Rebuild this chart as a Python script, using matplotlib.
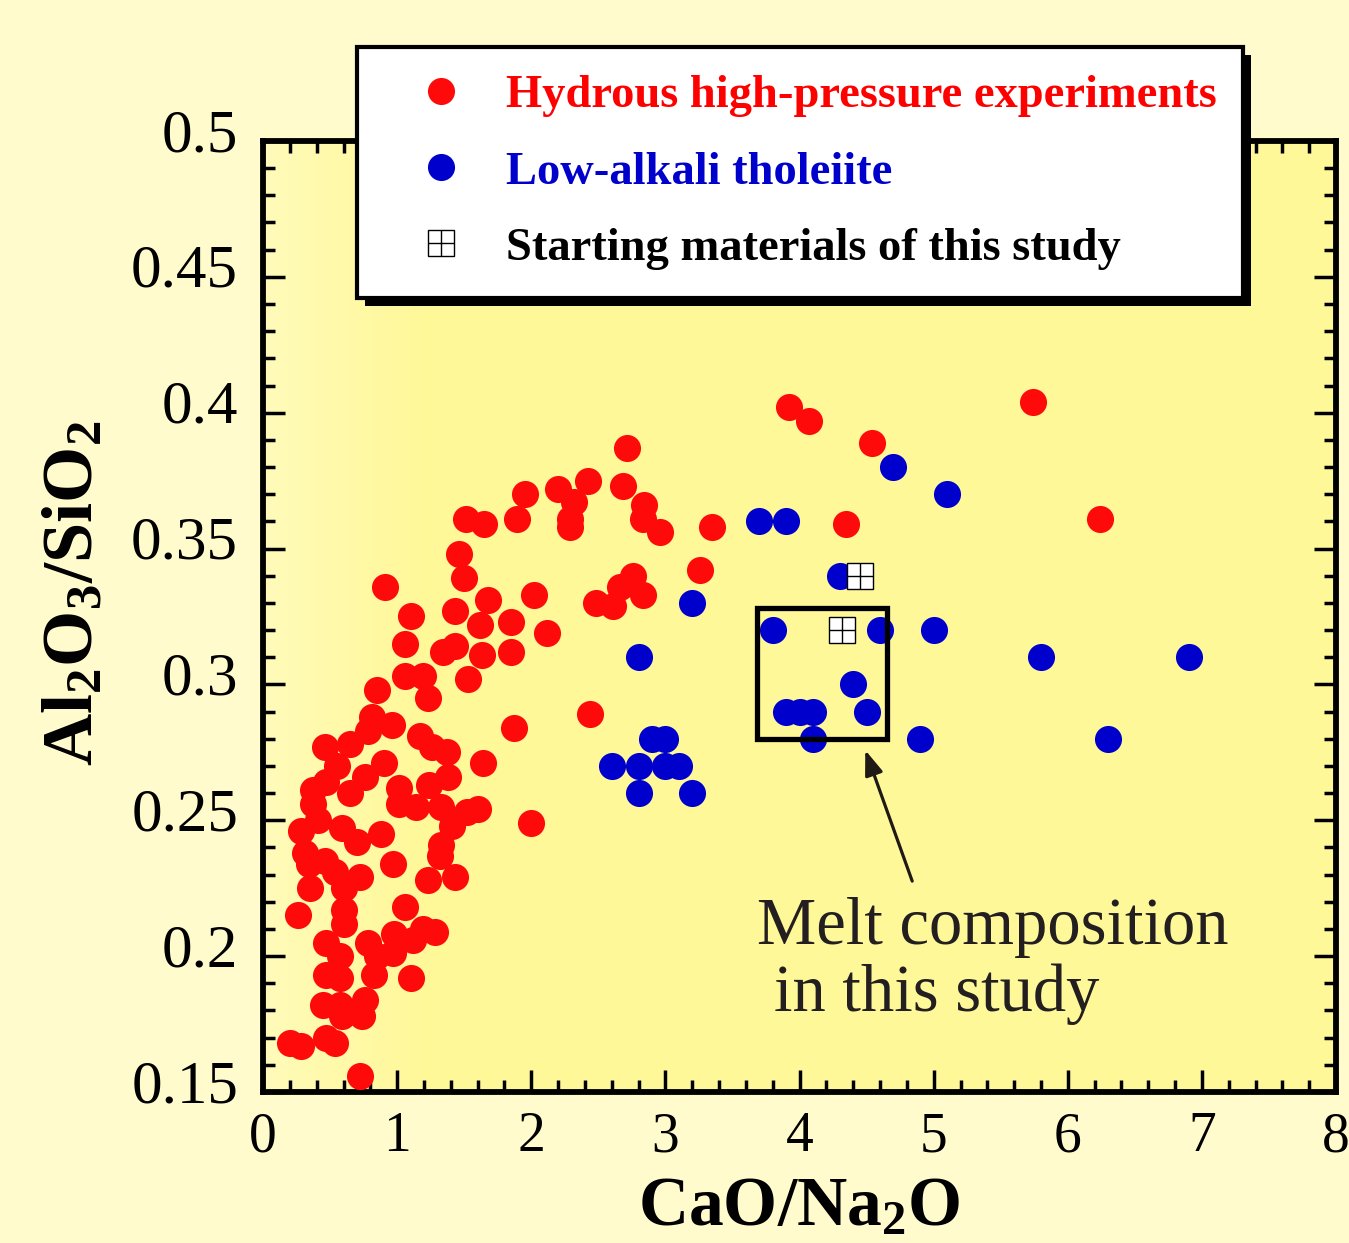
import numpy as np
import matplotlib
matplotlib.use('Agg')
import matplotlib.pyplot as plt
import matplotlib.patheffects as pe
from matplotlib.patches import Rectangle
from matplotlib.ticker import MultipleLocator, FuncFormatter
from matplotlib.transforms import ScaledTranslation

# hydrous high-pressure experiments (CaO/Na2O, Al2O3/SiO2)
red_x = [5.74, 3.92, 4.07, 4.54, 4.35, 6.24, 3.35, 3.26,
         2.71, 1.95, 2.20, 2.42, 2.32, 2.29, 2.29, 2.68, 2.84, 2.83, 2.96, 1.65,
         1.89, 1.68, 2.02, 1.85, 2.12, 1.62, 1.85, 1.63, 2.48, 2.61, 2.66, 2.76,
         2.83, 2.44, 1.87, 1.64, 2.00,
         1.51, 1.46, 1.50, 0.91, 1.10, 1.43, 1.06, 1.34, 1.43, 1.06, 1.19, 1.53,
         0.85, 1.23, 0.81, 0.96, 0.78, 0.46, 0.65, 1.17, 1.26, 1.37, 0.90, 0.55,
         0.76, 0.375, 0.47, 0.65, 1.01, 1.24, 1.38, 0.375, 1.01, 1.14, 1.33, 1.52,
         1.60, 0.41, 0.28, 0.59, 0.70, 0.88, 1.41, 1.33, 0.31, 1.32, 0.34, 0.46,
         0.54, 0.72, 0.97, 1.23, 1.43, 0.35, 0.60, 0.26, 0.60, 1.06, 0.60, 0.47,
         0.78, 0.98, 1.19, 1.28, 1.12, 0.57, 0.85, 0.97, 0.47, 0.57, 0.83, 1.10,
         0.45, 0.57, 0.76, 0.59, 0.74, 0.20, 0.28, 0.47, 0.54, 0.72]
red_y = [0.404, 0.402, 0.397, 0.389, 0.359, 0.361, 0.358, 0.342,
         0.387, 0.370, 0.372, 0.375, 0.367, 0.361, 0.358, 0.373, 0.366, 0.361, 0.356, 0.359,
         0.361, 0.331, 0.333, 0.323, 0.319, 0.322, 0.312, 0.311, 0.330, 0.329, 0.336, 0.340,
         0.333, 0.289, 0.284, 0.271, 0.249,
         0.361, 0.348, 0.339, 0.336, 0.325, 0.327, 0.315, 0.312, 0.314, 0.303, 0.303, 0.302,
         0.298, 0.295, 0.288, 0.285, 0.283, 0.277, 0.278, 0.281, 0.277, 0.275, 0.271, 0.270,
         0.266, 0.261, 0.264, 0.260, 0.262, 0.263, 0.266, 0.256, 0.256, 0.255, 0.255, 0.253,
         0.254, 0.250, 0.246, 0.247, 0.242, 0.245, 0.248, 0.241, 0.238, 0.237, 0.234, 0.235,
         0.231, 0.229, 0.234, 0.228, 0.229, 0.225, 0.225, 0.215, 0.217, 0.218, 0.212, 0.205,
         0.205, 0.208, 0.210, 0.209, 0.206, 0.200, 0.200, 0.201, 0.193, 0.192, 0.193, 0.192,
         0.182, 0.182, 0.184, 0.178, 0.178, 0.168, 0.167, 0.170, 0.168, 0.156]

# low-alkali tholeiite
blue_x = [4.7, 5.1, 3.7, 3.9, 4.3, 3.2, 3.8, 4.6, 5.0, 2.8, 5.8, 6.9, 4.4, 3.9,
          4.0, 4.1, 4.5, 2.9, 3.0, 4.1, 4.9, 6.3, 2.6, 2.8, 3.0, 3.1, 2.8, 3.2]
blue_y = [0.38, 0.37, 0.36, 0.36, 0.34, 0.33, 0.32, 0.32, 0.32, 0.31, 0.31, 0.31, 0.30, 0.29,
          0.29, 0.29, 0.29, 0.28, 0.28, 0.28, 0.28, 0.28, 0.27, 0.27, 0.27, 0.27, 0.26, 0.26]

# starting materials of this study
start_x = [4.45, 4.32]
start_y = [0.34, 0.32]

# melt composition window
melt_box = (3.68, 0.280, 4.65, 0.328)

plt.rcParams['font.family'] = ['Liberation Serif']
plt.rcParams['mathtext.fontset'] = 'custom'
plt.rcParams['mathtext.rm'] = 'Liberation Serif'
plt.rcParams['mathtext.bf'] = 'Liberation Serif:bold'

fig = plt.figure(figsize=(13.49, 12.43), dpi=100, facecolor='#FFFBCC')
ax = fig.add_axes([0.195, 0.1215, 0.7954, 0.7651])
ax.set_facecolor('#FFF899')

# slightly lighter band along the left side of the panel
grad = np.ones((2, 256, 3))
ramp = np.clip(np.linspace(0, 1, 256) / 0.15, 0, 1)
c0 = np.array([255, 251, 185]) / 255
c1 = np.array([255, 248, 153]) / 255
grad[:] = c0 + (c1 - c0) * ramp[:, None]
ax.imshow(grad, extent=[0, 1, 0, 1], transform=ax.transAxes, aspect='auto', zorder=0)

ax.plot(red_x, red_y, 'o', color='#FF0A0A', markersize=19.5, markeredgewidth=0,
        zorder=3, label='Hydrous high-pressure experiments')
ax.plot(blue_x, blue_y, 'o', color='#0000CC', markersize=19.5, markeredgewidth=0,
        zorder=3, label='Low-alkali tholeiite')
sq, = ax.plot(start_x, start_y, 's', markerfacecolor='white', markeredgecolor='black',
              markeredgewidth=1.0, markersize=19, zorder=4)
cr, = ax.plot(start_x, start_y, '+', color='black', markeredgewidth=1.0,
              markersize=19, zorder=4)

x0, y0, x1, y1 = melt_box
ax.add_patch(Rectangle((x0, y0), x1 - x0, y1 - y0, fill=False, edgecolor='black',
                       linewidth=3.8, zorder=5))
ax.annotate('', xy=(4.49, 0.2758), xytext=(4.84, 0.2276),
            arrowprops=dict(arrowstyle='-|>,head_length=1.5,head_width=0.55',
                            color='#201A17', linewidth=2.3, shrinkA=0, shrinkB=0),
            zorder=5)
ax.text(3.68, 0.2044, 'Melt composition', fontsize=48, color='#231F20',
        ha='left', va='baseline')
ax.text(3.81, 0.1798, 'in this study', fontsize=48, color='#231F20',
        ha='left', va='baseline')

ax.set_xlim(0, 8)
ax.set_ylim(0.15, 0.5)
ax.xaxis.set_major_locator(MultipleLocator(1))
ax.xaxis.set_minor_locator(MultipleLocator(0.2))
ax.yaxis.set_major_locator(MultipleLocator(0.05))
ax.yaxis.set_minor_locator(MultipleLocator(0.01))
ax.yaxis.set_major_formatter(FuncFormatter(lambda v, p: f'{v:g}'))
ax.tick_params(which='both', direction='in', top=True, right=True, width=2.5)
ax.tick_params(which='major', length=16)
ax.tick_params(which='minor', length=8.5)
ax.tick_params(axis='y', labelsize=44, pad=18)
ax.tick_params(axis='x', labelsize=40, pad=14)
for s in ax.spines.values():
    s.set_linewidth(4.2)

# y tick numbers sit a little above their ticks
lift = ScaledTranslation(0, 8 / 72, fig.dpi_scale_trans)
for t in ax.yaxis.get_major_ticks():
    t.label1.set_transform(t.label1.get_transform() + lift)

ax.set_xlabel(r'$\mathbf{CaO/Na_2O}$', fontsize=50, labelpad=10)
ax.set_ylabel(r'$\mathbf{Al_2O_3/SiO_2}$', fontsize=52)
ax.yaxis.set_label_coords(-0.145, 0.524)

leg = ax.legend([ax.lines[0], ax.lines[1], (sq, cr)],
                ['Hydrous high-pressure experiments', 'Low-alkali tholeiite',
                 'Starting materials of this study'],
                loc='upper left', bbox_to_anchor=(0.2646, 0.9622, 0.6568, 0),
                bbox_transform=fig.transFigure, mode='expand', borderaxespad=0,
                prop={'weight': 'bold', 'size': 33.5}, labelcolor=['#FF0000', '#0000CC', 'black'],
                frameon=True, fancybox=False, framealpha=1, edgecolor='black',
                borderpad=0.6, labelspacing=0.72, handlelength=2.4, handletextpad=0.2,
                numpoints=1)
leg.get_frame().set_linewidth(3)
leg.get_frame().set_path_effects([pe.SimplePatchShadow(offset=(6, -6), shadow_rgbFace='black', alpha=1),
                                  pe.Normal()])
leg.set_zorder(10)

fig.savefig('out.png', dpi=100, facecolor=fig.get_facecolor())
